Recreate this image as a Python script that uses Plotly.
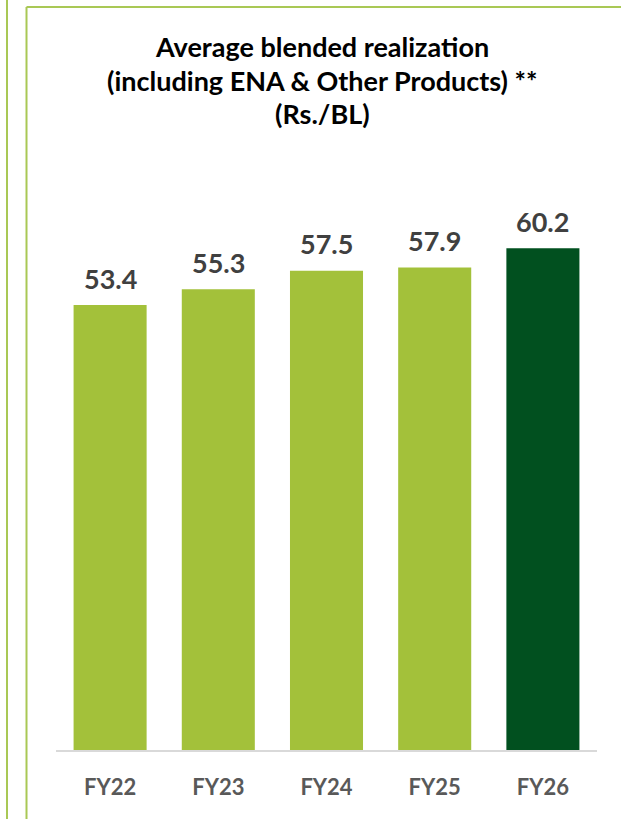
import plotly.graph_objects as go

categories = ["FY22", "FY23", "FY24", "FY25", "FY26"]
values = [53.4, 55.3, 57.5, 57.9, 60.2]
value_labels = ["53.4", "55.3", "57.5", "57.9", "60.2"]
title_lines = ["Average blended realization",
               "(including ENA & Other Products) **",
               "(Rs./BL)"]

LIGHT = "#A3C13A"
DARK = "#01501F"
colors = [LIGHT, LIGHT, LIGHT, LIGHT, DARK]

W, H = 621, 819
L, R, T, B = 56, 24, 170, 69
PW, PH = W - L - R, H - T - B
FONT = "Lato"

def px_x(x):
    return (x - L) / PW

def px_y(y):
    return (H - B - y) / PH

fig = go.Figure()
fig.add_trace(go.Bar(x=categories, y=values, marker=dict(color=colors, line=dict(width=0)),
                     hoverinfo="skip"))

for c, v, t in zip(categories, values, value_labels):
    fig.add_annotation(x=c, y=v, xref="x", yref="y", text=f"<b>{t}</b>", showarrow=False,
                       yanchor="middle", yshift=27,
                       font=dict(family=FONT, size=27, color="#404040"))

for i, line in enumerate(title_lines):
    ypx = 47 + 33 * i
    fig.add_annotation(x=px_x(322), y=px_y(ypx), xref="paper", yref="paper",
                       text=f"<b>{line}</b>", showarrow=False, xanchor="center", yanchor="middle",
                       font=dict(family=FONT, size=27, color="#000000"))

border = "#A9C855"
shapes = [
    dict(type="line", xref="paper", yref="paper", x0=px_x(7), x1=px_x(7), y0=px_y(0), y1=px_y(H + 5),
         line=dict(color=border, width=2)),
    dict(type="line", xref="paper", yref="paper", x0=px_x(26.5), x1=px_x(26.5), y0=px_y(7), y1=px_y(H + 5),
         line=dict(color=border, width=2)),
    dict(type="line", xref="paper", yref="paper", x0=px_x(26.5), x1=px_x(W + 5), y0=px_y(7), y1=px_y(7),
         line=dict(color=border, width=2)),
]

fig.update_layout(
    width=W, height=H,
    margin=dict(l=L, r=R, t=T, b=B, pad=0, autoexpand=False),
    paper_bgcolor="white", plot_bgcolor="white",
    showlegend=False, bargap=0.325,
    shapes=shapes,
    font=dict(family=FONT),
    xaxis=dict(showline=True, linecolor="#D9D9D9", linewidth=2, ticks="", showgrid=False,
               automargin=False,
               tickfont=dict(family=FONT, size=22, color="#595959"),
               ticklabelstandoff=17),
    yaxis=dict(range=[0, PH / 8.333], visible=False, showgrid=False, fixedrange=True,
               automargin=False),
)
fig.update_xaxes(tickprefix="<b>", ticksuffix="</b>")

fig.write_html("out.html", config={"displayModeBar": False},
               post_script="document.body.style.margin='0';document.body.style.overflow='hidden';")
